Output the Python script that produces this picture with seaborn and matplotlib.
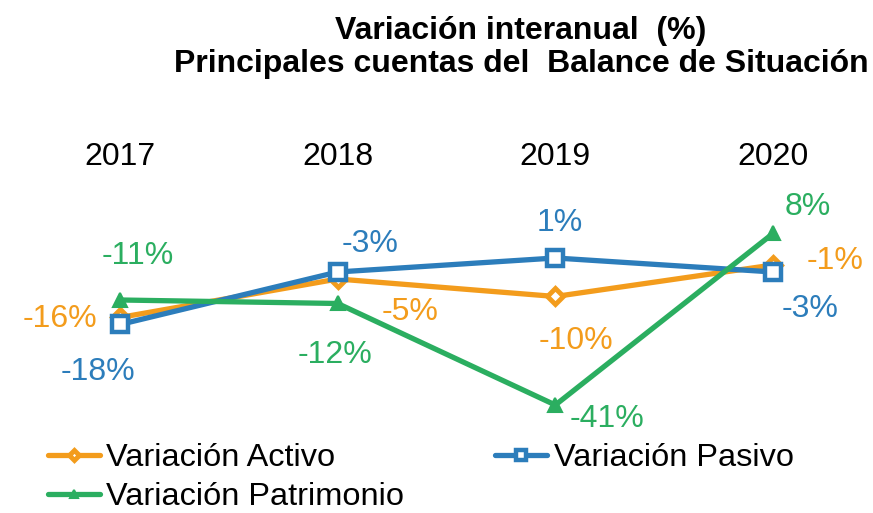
import matplotlib
matplotlib.use("Agg")
import matplotlib.pyplot as plt
import seaborn as sns
import pandas as pd

sns.set_theme(style="white")
plt.rcParams['font.family'] = ['Liberation Sans', 'DejaVu Sans']

years = ["2017", "2018", "2019", "2020"]
activo = [-16, -5, -10, -1]
pasivo = [-18, -3, 1, -3]
patrimonio = [-11, -12, -41, 8]
series_names = ["Variación Activo", "Variación Pasivo", "Variación Patrimonio"]
title_text = "Variación interanual  (%)\nPrincipales cuentas del  Balance de Situación"

colors = ["#F39C1C", "#2C7DBB", "#2BAE60"]
markers = ["D", "s", "^"]
mfc = ["white", "white", None]
msize = [8, 11, 10]
mew = [3.5, 3.2, 1.5]

# label offsets (points) for each series, each point
offsets = [
    [(-43, -1), (52, -24), (15, -32), (45, 3)],
    [(-16, -34), (23, 20), (3, 25), (27, -27)],
    [(13, 32), (-2, -37), (37, -10), (25, 19)],
]

fig = plt.figure(figsize=(8.73, 5.13), dpi=100)
ax = fig.add_axes([0, 0.1618, 1, 0.4971])

x = list(range(len(years)))
data = [activo, pasivo, patrimonio]
for i, (name, vals) in enumerate(zip(series_names, data)):
    df = pd.DataFrame({"x": x, "y": vals})
    kw = dict(marker=markers[i], markersize=msize[i], markeredgecolor=colors[i],
              markeredgewidth=mew[i])
    kw["markerfacecolor"] = mfc[i] if mfc[i] is not None else colors[i]
    sns.lineplot(data=df, x="x", y="y", ax=ax, color=colors[i], linewidth=3.8,
                 label=name, **kw)
    for j, v in enumerate(vals):
        ax.annotate(f"{v}%", (x[j], v), xytext=offsets[i][j], textcoords="offset points",
                    ha="center", va="center", fontsize=23, color=colors[i])

ax.set_xlim(-0.5513, 3.4594)
ax.set_ylim(-48.14, 24.71)
ax.set_xticks(x)
ax.set_xticklabels(years, fontsize=23, color="black")
ax.xaxis.tick_top()
ax.tick_params(axis="x", length=0, pad=2)
ax.set_yticks([])
ax.set_xlabel("")
ax.set_ylabel("")
for s in ax.spines.values():
    s.set_visible(False)
ax.patch.set_alpha(0)

handles, labels = ax.get_legend_handles_labels()
ax.get_legend().remove()
order = [0, 2, 1]
leg = fig.legend([handles[k] for k in order], [labels[k] for k in order],
                 loc="upper left", bbox_to_anchor=(0.0547, 0.136),
                 ncol=2, frameon=False, fontsize=23.4, handlelength=1.6,
                 handletextpad=0.2, columnspacing=2.8, labelspacing=0.28,
                 borderaxespad=0, borderpad=0, markerscale=0.6)
for t in leg.get_texts():
    t.set_color("black")

fig.suptitle(title_text, x=0.597, y=0.969, va="top", ha="center",
             fontsize=23, fontweight="bold", linespacing=1.15, color="black")

fig.savefig("out.png", dpi=100)
